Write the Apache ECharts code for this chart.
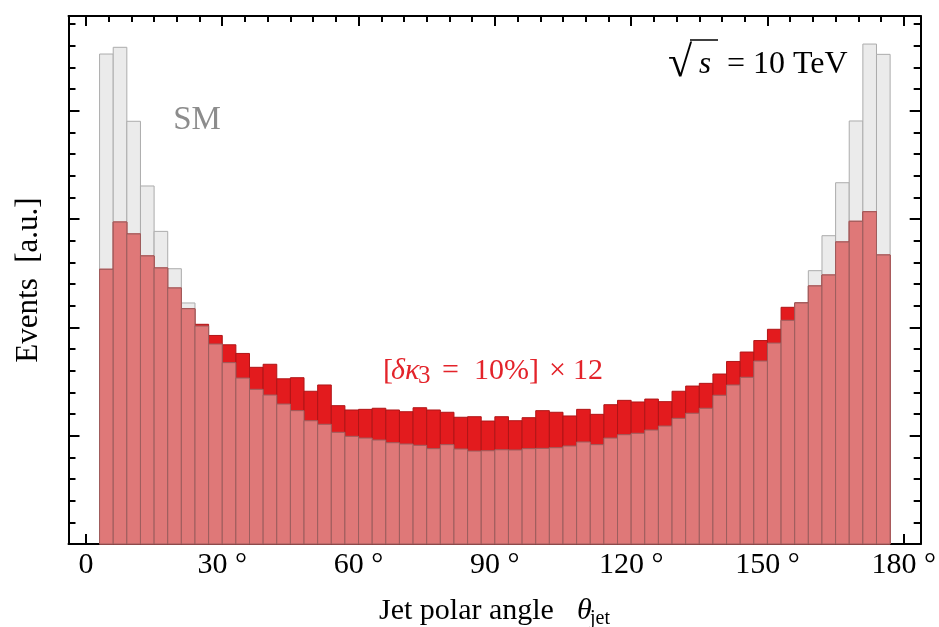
<!DOCTYPE html>
<html>
<head>
<meta charset="utf-8">
<title>Jet polar angle distribution</title>
<script src="https://cdn.jsdelivr.net/npm/echarts@6/dist/echarts.min.js"></script>
<style>
  html, body { margin: 0; padding: 0; background: #ffffff; }
  #chart { width: 939px; height: 627px; }
</style>
</head>
<body>
<div id="chart"></div>
<script>
// Histogram bin edges in degrees (3 degree bins from 3 to 177)
const binEdges = [3, 6, 9, 12, 15, 18, 21, 24, 27, 30, 33, 36, 39, 42, 45, 48, 51, 54, 57, 60,
  63, 66, 69, 72, 75, 78, 81, 84, 87, 90, 93, 96, 99, 102, 105, 108, 111, 114, 117, 120,
  123, 126, 129, 132, 135, 138, 141, 144, 147, 150, 153, 156, 159, 162, 165, 168, 171, 174, 177];

// Standard Model expectation per bin [a.u.]
const smEvents = [4.523, 4.585, 3.902, 3.305, 2.886, 2.541, 2.225, 2.012, 1.846, 1.674,
  1.532, 1.428, 1.375, 1.292, 1.231, 1.138, 1.105, 1.031, 0.994, 0.978,
  0.960, 0.935, 0.923, 0.911, 0.880, 0.917, 0.877, 0.858, 0.861, 0.870,
  0.868, 0.880, 0.883, 0.889, 0.905, 0.942, 0.917, 0.978, 1.009, 1.022,
  1.052, 1.089, 1.160, 1.207, 1.253, 1.373, 1.468, 1.539, 1.689, 1.855,
  2.065, 2.228, 2.523, 2.846, 3.335, 3.905, 4.615, 4.520];

// Distribution with the trilinear coupling shifted (effect scaled x12) [a.u.]
const kappaEvents = [2.536, 2.972, 2.862, 2.659, 2.548, 2.363, 2.172, 2.028, 1.925, 1.839,
  1.759, 1.631, 1.659, 1.525, 1.535, 1.410, 1.468, 1.277, 1.237, 1.243,
  1.253, 1.237, 1.221, 1.258, 1.237, 1.216, 1.170, 1.175, 1.135, 1.175,
  1.138, 1.166, 1.231, 1.216, 1.182, 1.243, 1.197, 1.286, 1.326, 1.311,
  1.338, 1.314, 1.410, 1.458, 1.483, 1.569, 1.685, 1.772, 1.878, 1.982,
  2.185, 2.225, 2.382, 2.483, 2.788, 2.979, 3.067, 2.668];

// Axis ticks and labels
const xMajorTicks = [0, 30, 60, 90, 120, 150, 180];
const xTickLabels = ['0', '30 °', '60 °', '90 °', '120 °', '150 °', '180 °'];
const xMinorTicks = [5, 10, 15, 20, 25, 35, 40, 45, 50, 55, 65, 70, 75, 80, 85, 95, 100, 105, 110,
  115, 125, 130, 135, 140, 145, 155, 160, 165, 170, 175];
const yMajorTicks = [0, 1, 2, 3, 4];
const yMinorTicks = [0.2, 0.4, 0.6, 0.8, 1.2, 1.4, 1.6, 1.8, 2.2, 2.4, 2.6, 2.8, 3.2, 3.4, 3.6, 3.8,
  4.2, 4.4, 4.6, 4.8];

const X_MIN = -3.84, X_MAX = 183.73;
const Y_MIN = 0, Y_MAX = 4.874;

const SERIF = "'Liberation Serif', 'DejaVu Serif', serif";
const RED_TEXT = '#e3232a';

function binData(values) {
  return values.map((v, i) => [binEdges[i], binEdges[i + 1], v]);
}
const overlap = smEvents.map((v, i) => Math.min(v, kappaEvents[i]));

function barRenderer(fill, stroke) {
  return function (params, api) {
    const p0 = api.coord([api.value(0), api.value(2)]);
    const p1 = api.coord([api.value(1), 0]);
    return {
      type: 'rect',
      shape: { x: p0[0], y: p0[1], width: p1[0] - p0[0], height: p1[1] - p0[1] },
      style: { fill: fill, stroke: stroke, lineWidth: 1 }
    };
  };
}

function xAxisDef(position, ticks, len, withLine, withLabel) {
  return {
    type: 'value', position: position, min: X_MIN, max: X_MAX,
    axisLine: { show: withLine, onZero: false, lineStyle: { color: '#000', width: 2 } },
    axisTick: { show: true, inside: true, length: len, customValues: ticks,
      lineStyle: { color: '#000', width: 2 } },
    axisLabel: withLabel ? {
      show: true, customValues: xMajorTicks, margin: 6, lineHeight: 30,
      fontFamily: SERIF, fontSize: 30, color: '#000',
      formatter: v => xTickLabels[xMajorTicks.indexOf(Math.round(v))]
    } : { show: false },
    splitLine: { show: false }
  };
}

function yAxisDef(position, ticks, len, withLine) {
  return {
    type: 'value', position: position, min: Y_MIN, max: Y_MAX,
    axisLine: { show: withLine, onZero: false, lineStyle: { color: '#000', width: 2 } },
    axisTick: { show: true, inside: true, length: len, customValues: ticks,
      lineStyle: { color: '#000', width: 2 } },
    axisLabel: { show: false },
    splitLine: { show: false }
  };
}

function label(x, y, text, size, color, extra) {
  return Object.assign({
    type: 'text', x: x, y: y, z: 10,
    style: Object.assign({ text: text, fontFamily: SERIF, fontSize: size, fill: color,
      textAlign: 'left', textVerticalAlign: 'middle' }, (extra && extra.style) || {})
  }, (extra && extra.el) || {});
}

const chart = echarts.init(document.getElementById('chart'), null, { renderer: 'canvas' });

chart.setOption({
  animation: false,
  backgroundColor: '#ffffff',
  grid: { left: 68.5, right: 16, top: 16, bottom: 83, containLabel: false },
  xAxis: [
    xAxisDef('bottom', xMajorTicks, 10, true, true),
    xAxisDef('bottom', xMinorTicks, 6, false, false),
    xAxisDef('top', xMajorTicks, 10, true, false),
    xAxisDef('top', xMinorTicks, 6, false, false)
  ],
  yAxis: [
    yAxisDef('left', yMajorTicks, 11, true),
    yAxisDef('left', yMinorTicks, 7, false),
    yAxisDef('right', yMajorTicks, 11, true),
    yAxisDef('right', yMinorTicks, 7, false)
  ],
  series: [
    {
      name: 'SM', type: 'custom', xAxisIndex: 0, yAxisIndex: 0,
      renderItem: barRenderer('#ebebeb', '#acacac'),
      encode: { x: [0, 1], y: 2 },
      data: binData(smEvents), z: 2
    },
    {
      name: 'kappa3', type: 'custom', xAxisIndex: 0, yAxisIndex: 0,
      renderItem: barRenderer('#e31b1e', '#b01517'),
      encode: { x: [0, 1], y: 2 },
      data: binData(kappaEvents), z: 3
    },
    {
      name: 'overlap', type: 'custom', xAxisIndex: 0, yAxisIndex: 0,
      renderItem: barRenderer('#df7878', '#9c5e5e'),
      encode: { x: [0, 1], y: 2 },
      data: binData(overlap), z: 4
    }
  ],
  graphic: [
    label(197, 120.5, 'SM', 33, '#8c8c8c', { style: { textAlign: 'center' } }),
    // sqrt(s) = 10 TeV
    label(668, 64, '√', 44, '#000'),
    { type: 'line', z: 10, shape: { x1: 690, y1: 40, x2: 718, y2: 40 },
      style: { stroke: '#000', lineWidth: 1.5 } },
    label(699, 64.8, 's', 31, '#000', { style: { fontStyle: 'italic' } }),
    label(727, 64.2, '= 10 TeV', 32, '#000'),
    // [δκ3 = 10%] × 12
    label(383, 371.5, '[', 30, RED_TEXT),
    label(391, 371.5, 'δκ', 30, RED_TEXT, { style: { fontStyle: 'italic' } }),
    label(418, 376, '3', 25, RED_TEXT),
    label(442, 371.5, '=', 30, RED_TEXT),
    label(474, 371.5, '10%]', 30, RED_TEXT),
    label(549, 371.5, '×', 30, RED_TEXT),
    label(573, 371.5, '12', 30, RED_TEXT),
    // axis titles
    label(379, 611.5, 'Jet polar angle', 30, '#000'),
    label(577, 611.5, 'θ', 30, '#000', { style: { fontStyle: 'italic' } }),
    label(590, 619, 'jet', 20, '#000'),
    label(28.5, 280, 'Events  [a.u.]', 31, '#000',
      { style: { textAlign: 'center' }, el: { rotation: Math.PI / 2 } })
  ]
});
</script>
</body>
</html>
